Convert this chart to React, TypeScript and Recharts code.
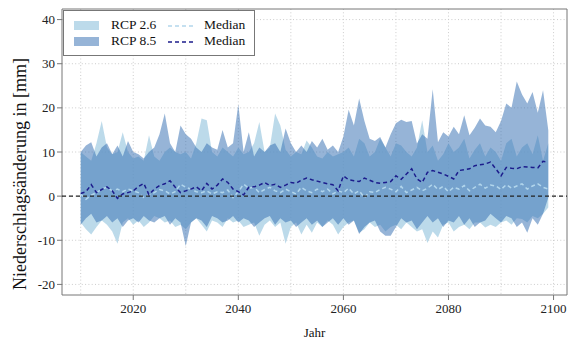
import React from "react";
import {
  ComposedChart,
  Area,
  Line,
  XAxis,
  YAxis,
  CartesianGrid,
  ReferenceLine,
  ReferenceArea,
} from "recharts";

// years 2010..2099
const years = Array.from({ length: 90 }, (_, i) => 2010 + i);

// RCP 2.6 band + median
const upper26 = [
  10, 9, 8, 12, 17, 11, 9.5, 10, 14.5, 10,
  8.5, 9, 8, 13.8, 9, 8, 10, 11, 10, 9.5,
  10, 8.5, 12, 17.6, 17.2, 10, 9, 11, 10, 9,
  11, 9.5, 10, 12, 16.8, 10, 11, 18.7, 16, 10.5,
  9, 10, 9.5, 12.6, 11, 9, 8.5, 10, 9, 9.5,
  10, 11, 9, 13, 12, 9, 10, 13, 11, 9,
  12, 11.5, 10, 9, 11, 17.2, 10, 11.5, 8, 9.5,
  12, 10, 11, 13, 8.5, 10.5, 12, 9, 11, 10,
  8, 12, 13, 9, 11, 12, 9.5, 13.8, 8, 12,
];
const lower26 = [
  -6, -7.5, -8.7, -7, -5.5, -6.5, -8, -10.8, -6, -5,
  -6.5, -5.5, -7, -6, -4.5, -5, -6, -5.5, -7, -6.5,
  -7.5, -6, -5, -6.5, -8, -5.5, -6, -7, -5, -6,
  -5.5, -7, -6.5, -6, -9, -6.5, -5.5, -7, -6, -10.8,
  -7, -6, -8.7, -6.5, -8.3, -6, -7, -5.5, -6.5, -8.7,
  -7, -6, -5.5, -8.3, -7.5, -6, -7, -6.5, -8, -7,
  -6.5, -7.5, -6, -7, -8, -7.5, -10.6, -8, -9.4, -6.5,
  -6, -8, -7, -6.5, -7.5, -6, -6, -7.1, -6.5, -7,
  -6, -5.5, -6.5, -5, -5.2, -6, -4.5, -5, -4, -2.6,
];
const median26 = [
  0.5, -0.7, 0.2, 0.8, 1.6, 2.0, 1.2, 1.6, 1.0, 1.6,
  1.2, 0.8, -0.3, 0.3, 0.8, 1.5, 1.2, 0.5, 1.0, 2.7,
  2.0, 1.6, 1.0, 0.8, 1.2, 0.5, 1.0, 0.8, 1.4, -0.3,
  1.0, 2.7, 1.8, 2.0, 0.8, 1.5, 2.0, 1.2, 0.8, 1.6,
  1.0, 0.5, 2.0, 1.2, 0.8, 1.6, 1.0, 1.6, 0.5, 1.2,
  0.8, 1.8, 0.5, 1.2, -0.3, 1.0, 0.8, 1.5, 2.0, 1.6,
  1.0, 2.2, 0.8, 1.4, 2.0, 1.2, 1.8, 2.7, 1.5, 2.2,
  1.0, 2.0, 1.6, 2.4, 1.2, 2.0, 2.7, 1.8, 2.5, 2.3,
  1.5, 2.6, 1.8, 2.3, 2.8, 1.6, 2.3, 2.8, 2.0, 1.6,
];

// RCP 8.5 band + median
const upper85 = [
  10, 11.5, 12.2, 9, 11, 12, 9.5, 11.5, 9, 12.5,
  10, 9.5, 8.5, 10, 11, 14, 18.7, 12, 10, 16,
  14, 13, 11, 10, 12, 11, 10.5, 15, 11, 12,
  20.8, 10, 14.5, 9, 11, 10, 11.5, 12, 10, 15.3,
  12, 10, 11.5, 10, 12.5, 11, 13, 10.5, 11.5, 10,
  13.5, 19.6, 16, 22.1, 17, 13, 12.5, 13.4, 11, 14,
  16.5, 17.3, 16.8, 17, 11.9, 14, 13, 24.2, 12.2, 14.5,
  13.5, 15.7, 14, 18.3, 13.8, 15.5, 17.6, 16, 15.7, 14.5,
  17, 21, 20, 26, 23, 21, 23.6, 18.9, 24, 14.9,
];
const lower85 = [
  -6.5, -5, -4, -6, -5.5, -4.5, -6, -5, -7, -5.5,
  -5, -6, -4.5, -5.5, -6, -5, -4.5, -6.5, -5, -6,
  -11.3, -6, -5, -5.5, -7, -4.5, -5, -6, -5.5, -4.5,
  -6, -5, -5.5, -7, -6, -5, -4.5, -6.5, -5, -6,
  -5.5, -7, -6, -5, -6.5, -5.5, -7, -6, -5, -6.5,
  -5, -6.5, -5.5, -8.6, -7, -6, -5.5, -8, -9, -9,
  -7, -5, -6, -5.5, -7.5, -6, -4.5, -6, -5, -7,
  -5.5, -6, -4.5, -6.5, -5, -7, -6, -5.5, -4, -5,
  -6, -4.5, -5, -7, -6, -8.3, -5, -6.5, -4, -0.3,
];
const median85 = [
  0.6, 1.0, 2.6, 0.8, 1.5, 2.1, 1.2, -0.5, 0.5, 0.8,
  1.2, 2.2, 2.9, 0.3, 1.6, 2.4, 2.8, 3.5, 2.0, 0.8,
  1.2, 1.6, 2.1, 1.2, 2.9, 1.6, 2.5, 3.9, 3.1, 1.6,
  1.0, 0.3, 2.0, 2.1, 2.5, 3.1, 2.4, 2.7, 2.0, 2.5,
  3.1, 2.9, 3.6, 4.1, 3.7, 3.4, 3.1, 2.8, 2.6, 1.2,
  4.6, 3.7, 3.5, 3.3, 4.1, 3.6, 3.1, 2.9, 3.1, 3.3,
  4.6, 3.8, 5.0, 6.2, 3.9, 3.1, 5.4, 5.8, 5.4, 5.0,
  4.5, 3.9, 5.8, 6.0, 6.2, 6.9, 7.1, 7.3, 7.7, 6.2,
  4.6, 6.5, 6.3, 6.2, 6.7, 6.6, 6.5, 6.4, 7.9, 7.7,
];

const xTicks = [2020, 2040, 2060, 2080, 2100];
const xGrid = [2010, 2020, 2030, 2040, 2050, 2060, 2070, 2080, 2090, 2100];
const yTicks = [-20, -10, 0, 10, 20, 30, 40];
const X_DOMAIN = [2006.44, 2102.56];
const Y_DOMAIN = [-22.4, 42.4];

const data = years.map((year, i) => ({
  year,
  r26: [lower26[i], upper26[i]],
  r85: [lower85[i], upper85[i]],
  m26: median26[i],
  m85: median85[i],
}));

const FONT = "'Liberation Serif', 'DejaVu Serif', serif";
const C26 = "#a6cee3";
const C85 = "#2d69af";
const M26 = "#b2d6ec";
const M85 = "#1c1c8c";
const BOX = "#777";

function Legend() {
  const row = (top: number, swatchOpacity: number, color: string, label: string, lineColor: string) => (
    <div style={{ position: "absolute", top, left: 0, width: "100%", height: 16 }}>
      <div
        style={{
          position: "absolute",
          left: 10,
          top: 3,
          width: 25,
          height: 9,
          background: color,
          opacity: swatchOpacity,
        }}
      />
      <span style={{ position: "absolute", left: 47, top: -1, lineHeight: "16px" }}>{label}</span>
      <svg style={{ position: "absolute", left: 104, top: 0 }} width={25} height={16}>
        <line x1={0} y1={8} x2={25} y2={8} stroke={lineColor} strokeWidth={1.5} strokeDasharray="4 3" />
      </svg>
      <span style={{ position: "absolute", left: 140, top: -1, lineHeight: "16px" }}>Median</span>
    </div>
  );
  return (
    <div
      style={{
        position: "absolute",
        left: 63,
        top: 10,
        width: 190,
        height: 44,
        border: `1px solid ${BOX}`,
        background: "#fff",
        fontFamily: FONT,
        fontSize: 13.5,
        color: "#111",
      }}
    >
      {row(7, 0.75, C26, "RCP 2.6", M26)}
      {row(23, 0.5, C85, "RCP 8.5", M85)}
    </div>
  );
}

export default function App() {
  return (
    <div style={{ position: "absolute", left: 0, top: 0, width: 569, height: 342, background: "#fff" }}>
      <ComposedChart
        width={569}
        height={342}
        data={data}
        margin={{ top: 9, right: 2, bottom: 0, left: 0 }}
        style={{ fontFamily: FONT }}
      >
        <CartesianGrid
          stroke="#ccc"
          strokeDasharray="1 2.3"
          verticalValues={xGrid}
          horizontalValues={yTicks}
        />
        <XAxis
          dataKey="year"
          type="number"
          domain={X_DOMAIN}
          allowDataOverflow
          ticks={xTicks}
          height={47}
          axisLine={false}
          tickLine={{ stroke: BOX }}
          tickSize={5}
          tickMargin={4}
          tick={{ fill: "#222", fontSize: 13, fontFamily: FONT }}
          label={{
            content: (props: any) => {
              const vb = props.viewBox || {};
              return (
                <text
                  x={vb.x + vb.width / 2}
                  y={337}
                  textAnchor="middle"
                  fontSize={13}
                  fontFamily={FONT}
                  fill="#111"
                >
                  Jahr
                </text>
              );
            },
          }}
        />
        <YAxis
          type="number"
          domain={Y_DOMAIN}
          allowDataOverflow
          ticks={yTicks}
          width={62}
          axisLine={false}
          tickLine={{ stroke: BOX }}
          tickSize={5}
          tick={{ fill: "#222", fontSize: 13, fontFamily: FONT }}
          label={{
            content: () => (
              <text
                x={20}
                y={174}
                transform="rotate(-90 20 174)"
                textAnchor="middle"
                dominantBaseline="central"
                fontSize={18}
                fontFamily={FONT}
                fill="#111"
              >
                Niederschlagsänderung in [mm]
              </text>
            ),
          }}
        />
        <Area
          type="linear"
          dataKey="r26"
          stroke="none"
          fill={C26}
          fillOpacity={0.75}
          isAnimationActive={false}
          dot={false}
          activeDot={false}
        />
        <Area
          type="linear"
          dataKey="r85"
          stroke="none"
          fill={C85}
          fillOpacity={0.5}
          isAnimationActive={false}
          dot={false}
          activeDot={false}
        />
        <Line
          type="linear"
          dataKey="m26"
          stroke={M26}
          strokeWidth={1.5}
          strokeDasharray="4 3"
          dot={false}
          isAnimationActive={false}
        />
        <Line
          type="linear"
          dataKey="m85"
          stroke={M85}
          strokeWidth={1.5}
          strokeDasharray="4 3"
          dot={false}
          isAnimationActive={false}
        />
        <ReferenceLine y={0} stroke="#222" strokeWidth={1.2} strokeDasharray="4 3" />
        <ReferenceArea
          x1={X_DOMAIN[0]}
          x2={X_DOMAIN[1]}
          y1={Y_DOMAIN[0]}
          y2={Y_DOMAIN[1]}
          fill="none"
          stroke={BOX}
          strokeWidth={1}
          ifOverflow="visible"
        />
      </ComposedChart>
      <Legend />
    </div>
  );
}
